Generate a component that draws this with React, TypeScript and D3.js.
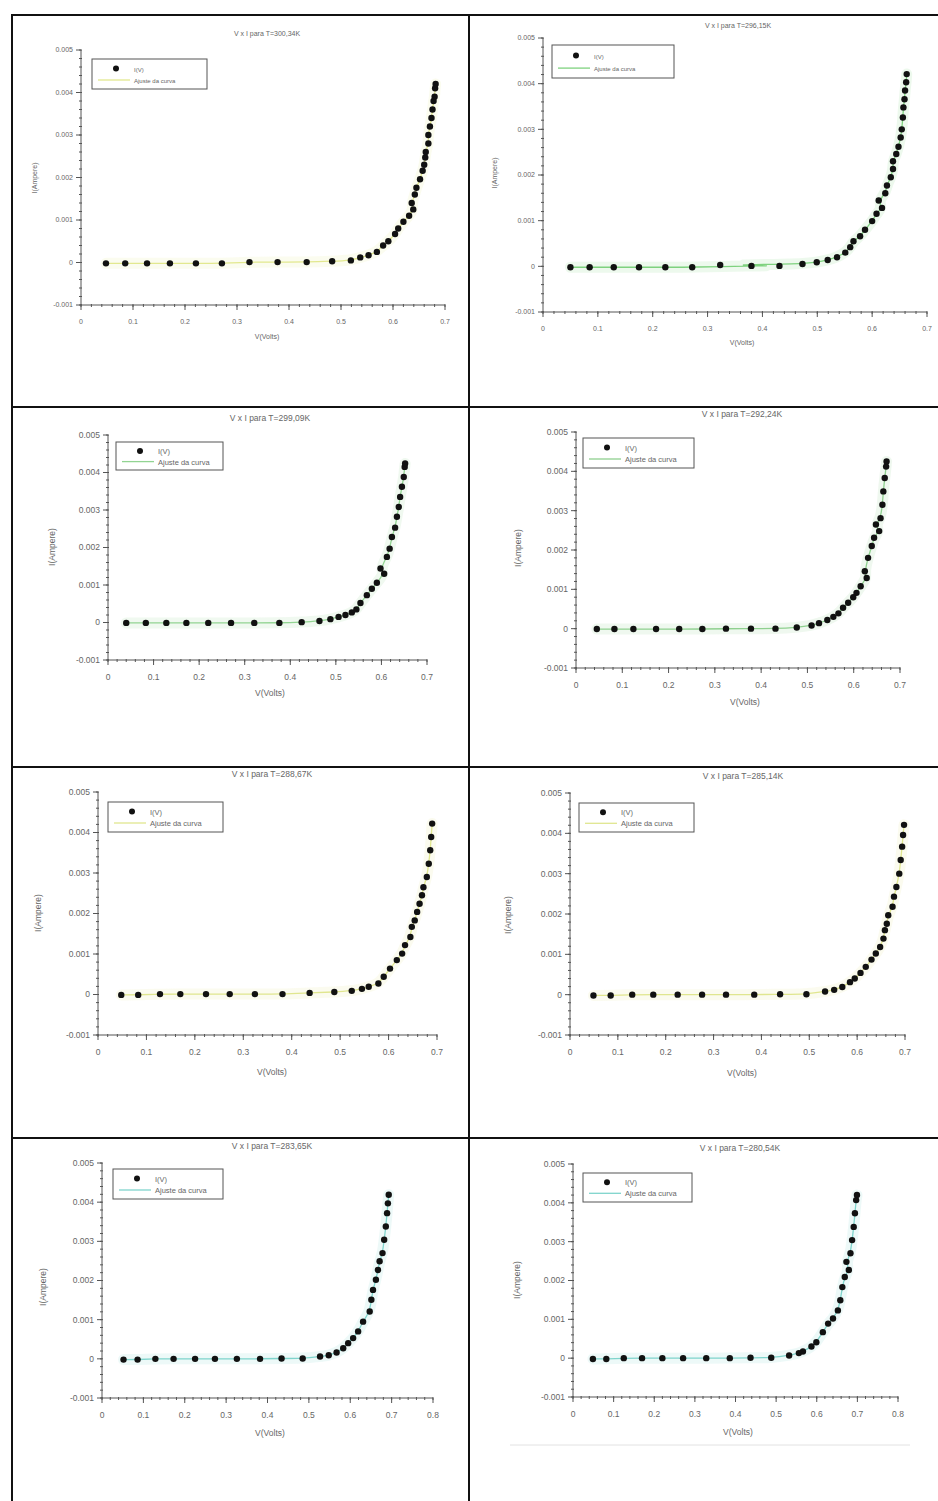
import React from 'react';
import * as d3 from 'd3';

// panel titles, left to right, top to bottom
const titles = [
  'V x I para T=300,34K',
  'V x I para T=296,15K',
  'V x I para T=299,09K',
  'V x I para T=292,24K',
  'V x I para T=288,67K',
  'V x I para T=285,14K',
  'V x I para T=283,65K',
  'V x I para T=280,54K',
];

const legendLabels = ['I(V)', 'Ajuste da curva'];
const xLabel = 'V(Volts)';
const yLabel = 'I(Ampere)';

const yTicks = [-0.001, 0, 0.001, 0.002, 0.003, 0.004, 0.005];
const yTickLabels = ['-0.001', '0', '0.001', '0.002', '0.003', '0.004', '0.005'];
const xTicks7 = [0, 0.1, 0.2, 0.3, 0.4, 0.5, 0.6, 0.7];
const xTickLabels7 = ['0', '0.1', '0.2', '0.3', '0.4', '0.5', '0.6', '0.7'];
const xTicks8 = [0, 0.1, 0.2, 0.3, 0.4, 0.5, 0.6, 0.7, 0.8];
const xTickLabels8 = ['0', '0.1', '0.2', '0.3', '0.4', '0.5', '0.6', '0.7', '0.8'];

// measured points, V in volts, I in amperes
const v1 = [0.048, 0.085, 0.127, 0.171, 0.221, 0.271, 0.324, 0.378, 0.434, 0.483, 0.519, 0.537, 0.553, 0.569, 0.581, 0.591, 0.604, 0.610, 0.620, 0.631, 0.639, 0.636, 0.642, 0.645, 0.652, 0.657, 0.660, 0.662, 0.663, 0.668, 0.668, 0.671, 0.674, 0.676, 0.678, 0.680, 0.681, 0.682];
const i1 = [-0.00002, -0.00002, -0.00002, -0.00002, -0.00002, -0.00002, 0.00001, 0.00001, 0.00001, 0.00003, 0.00005, 0.00012, 0.00017, 0.00025, 0.0004, 0.0005, 0.00067, 0.0008, 0.00096, 0.0011, 0.00125, 0.0014, 0.0016, 0.00176, 0.00196, 0.00216, 0.0023, 0.00247, 0.0026, 0.0028, 0.003, 0.0032, 0.0034, 0.0036, 0.0038, 0.0039, 0.0041, 0.0042];

const v2 = [0.050, 0.085, 0.129, 0.175, 0.223, 0.272, 0.323, 0.380, 0.431, 0.473, 0.499, 0.519, 0.536, 0.551, 0.560, 0.566, 0.578, 0.587, 0.600, 0.608, 0.618, 0.612, 0.624, 0.627, 0.634, 0.638, 0.638, 0.644, 0.648, 0.652, 0.654, 0.656, 0.657, 0.659, 0.660, 0.662, 0.663];
const i2 = [-0.00002, -0.00002, -0.00002, -0.00002, -0.00002, -0.00002, 0.00003, 0.00001, 0.00001, 0.00005, 0.00009, 0.00014, 0.0002, 0.0003, 0.00042, 0.00055, 0.00066, 0.0008, 0.00099, 0.00115, 0.00128, 0.00144, 0.0016, 0.00177, 0.00195, 0.00213, 0.0023, 0.00246, 0.00262, 0.00282, 0.003, 0.00326, 0.00348, 0.00366, 0.00385, 0.00403, 0.00421];

const v3 = [0.040, 0.083, 0.128, 0.172, 0.220, 0.270, 0.321, 0.376, 0.425, 0.464, 0.488, 0.506, 0.521, 0.535, 0.545, 0.554, 0.568, 0.579, 0.590, 0.598, 0.606, 0.612, 0.618, 0.623, 0.630, 0.634, 0.638, 0.641, 0.645, 0.649, 0.651, 0.652];
const i3 = [-0.00001, -0.00001, -0.00001, -0.00001, -0.00001, -0.00001, -0.00001, -0.00001, 0.00001, 0.00004, 0.00009, 0.00015, 0.0002, 0.00027, 0.00035, 0.00052, 0.00073, 0.0009, 0.00106, 0.00144, 0.0013, 0.00175, 0.00197, 0.00228, 0.00253, 0.00282, 0.00308, 0.00335, 0.00362, 0.00388, 0.00415, 0.00424];

const v4 = [0.045, 0.083, 0.124, 0.173, 0.223, 0.273, 0.324, 0.378, 0.431, 0.477, 0.509, 0.525, 0.543, 0.556, 0.567, 0.577, 0.588, 0.599, 0.606, 0.615, 0.628, 0.624, 0.631, 0.639, 0.644, 0.648, 0.655, 0.658, 0.662, 0.664, 0.667, 0.670, 0.671];
const i4 = [-0.00001, -0.00001, -0.00001, -0.00001, -0.00001, -0.00001, 0.00000, 0.00000, 0.00000, 0.00003, 0.00008, 0.00014, 0.00022, 0.0003, 0.00039, 0.00053, 0.00066, 0.0008, 0.00091, 0.00108, 0.00129, 0.00146, 0.0018, 0.0021, 0.00231, 0.00265, 0.00248, 0.00281, 0.00315, 0.00349, 0.00383, 0.00412, 0.00425];

const v5 = [0.048, 0.083, 0.128, 0.170, 0.223, 0.272, 0.324, 0.381, 0.437, 0.488, 0.524, 0.545, 0.559, 0.579, 0.590, 0.603, 0.617, 0.628, 0.634, 0.645, 0.648, 0.654, 0.659, 0.664, 0.669, 0.672, 0.679, 0.683, 0.686, 0.688, 0.690];
const i5 = [-0.00001, -0.00001, 0.00001, 0.00001, 0.00001, 0.00001, 0.00001, 0.00001, 0.00004, 0.00006, 0.00009, 0.00014, 0.00019, 0.00027, 0.00044, 0.00064, 0.00085, 0.00101, 0.00122, 0.00142, 0.00167, 0.00183, 0.00204, 0.00224, 0.00245, 0.00265, 0.0029, 0.00323, 0.00356, 0.00389, 0.00422];

const v6 = [0.049, 0.085, 0.130, 0.174, 0.225, 0.276, 0.326, 0.385, 0.439, 0.494, 0.533, 0.552, 0.569, 0.585, 0.595, 0.607, 0.618, 0.630, 0.639, 0.648, 0.655, 0.658, 0.662, 0.665, 0.674, 0.677, 0.682, 0.688, 0.691, 0.694, 0.696, 0.698];
const i6 = [-0.00002, -0.00002, 0.00000, 0.00000, 0.00000, 0.00000, 0.00000, 0.00000, 0.00001, 0.00001, 0.00008, 0.00012, 0.00019, 0.00031, 0.0004, 0.00054, 0.00069, 0.00087, 0.00102, 0.00118, 0.00139, 0.0016, 0.00176, 0.00197, 0.00218, 0.00243, 0.00267, 0.003, 0.00334, 0.00367, 0.00396, 0.00421];

const v7 = [0.052, 0.086, 0.129, 0.173, 0.225, 0.273, 0.326, 0.382, 0.434, 0.485, 0.527, 0.548, 0.567, 0.583, 0.595, 0.607, 0.619, 0.631, 0.647, 0.651, 0.655, 0.662, 0.667, 0.671, 0.678, 0.682, 0.686, 0.689, 0.691, 0.693];
const i7 = [-0.00002, -0.00002, 0.00000, 0.00000, 0.00000, 0.00000, 0.00000, 0.00000, 0.00001, 0.00001, 0.00006, 0.00009, 0.00016, 0.00027, 0.0004, 0.00053, 0.0007, 0.00095, 0.00121, 0.00151, 0.00176, 0.00202, 0.00227, 0.00249, 0.0027, 0.00304, 0.00338, 0.00372, 0.00397, 0.00419];

const v8 = [0.049, 0.082, 0.125, 0.170, 0.220, 0.271, 0.328, 0.386, 0.437, 0.488, 0.532, 0.556, 0.566, 0.587, 0.599, 0.615, 0.628, 0.640, 0.652, 0.658, 0.663, 0.669, 0.673, 0.679, 0.683, 0.687, 0.691, 0.694, 0.697, 0.699];
const i8 = [-0.00002, -0.00002, 0.00000, 0.00000, 0.00000, 0.00000, 0.00000, 0.00000, 0.00001, 0.00001, 0.00007, 0.00013, 0.00017, 0.0003, 0.00041, 0.00067, 0.00089, 0.00102, 0.00123, 0.00149, 0.00183, 0.00209, 0.00248, 0.00227, 0.0027, 0.00304, 0.00338, 0.00373, 0.00407, 0.0042];

const voltages = [v1, v2, v3, v4, v5, v6, v7, v8];
const currents = [i1, i2, i3, i4, i5, i6, i7, i8];
const xMaxes = [0.7, 0.7, 0.7, 0.7, 0.7, 0.7, 0.8, 0.8];

const fitColors = ['#e2e88f', '#7fd27f', '#92d492', '#8fd08f', '#e0e68f', '#e0e68f', '#7fd4cc', '#7fd4cc'];

// where each plot sits inside the table (text positions are centres)
const layouts = [
  { x0: 81, x1: 445, yTop: 50, yBot: 305, tx: 267, ty: 34, xlx: 267, xly: 337, ylx: 35, yly: 178, lg: [92, 59, 115, 30], fs: 7 },
  { x0: 543, x1: 927, yTop: 38, yBot: 312, tx: 738, ty: 26, xlx: 742, xly: 343, ylx: 495, yly: 173, lg: [552, 45, 122, 33], fs: 7 },
  { x0: 108, x1: 427, yTop: 435, yBot: 660, tx: 270, ty: 418, xlx: 270, xly: 693, ylx: 52, yly: 547, lg: [116, 442, 107, 28], fs: 8.5 },
  { x0: 576, x1: 900, yTop: 432, yBot: 668, tx: 742, ty: 414, xlx: 745, xly: 702, ylx: 518, yly: 548, lg: [583, 438, 111, 30], fs: 8.5 },
  { x0: 98, x1: 437, yTop: 792, yBot: 1035, tx: 272, ty: 774, xlx: 272, xly: 1072, ylx: 38, yly: 913, lg: [108, 802, 115, 30], fs: 8.5 },
  { x0: 570, x1: 905, yTop: 793, yBot: 1035, tx: 743, ty: 776, xlx: 742, xly: 1073, ylx: 508, yly: 915, lg: [579, 803, 115, 29], fs: 8.5 },
  { x0: 102, x1: 433, yTop: 1163, yBot: 1398, tx: 272, ty: 1146, xlx: 270, xly: 1433, ylx: 43, yly: 1287, lg: [113, 1169, 110, 30], fs: 8.5 },
  { x0: 573, x1: 898, yTop: 1164, yBot: 1397, tx: 740, ty: 1148, xlx: 738, xly: 1432, ylx: 517, yly: 1280, lg: [583, 1173, 109, 29], fs: 8.5 },
];

const textColor = '#666';
const axisColor = '#555';
const font = 'Liberation Sans, Arial, sans-serif';

function Panel({ idx }: { idx: number }) {
  const L = layouts[idx];
  const xMax = xMaxes[idx];
  const x = d3.scaleLinear().domain([0, xMax]).range([L.x0, L.x1]);
  const y = d3.scaleLinear().domain([-0.001, 0.005]).range([L.yBot, L.yTop]);
  const xt = xMax > 0.75 ? xTicks8 : xTicks7;
  const xtl = xMax > 0.75 ? xTickLabels8 : xTickLabels7;
  const xMinor = d3.range(0, xMax + 1e-9, 0.02);
  const yMinor = d3.range(-0.001, 0.005 + 1e-9, 0.0002);
  const pts = voltages[idx].map((v, k) => ({ v, i: currents[idx][k] }));
  const fitPts = [...pts].sort((a, b) => a.i - b.i || a.v - b.v);
  const line = d3.line<{ v: number; i: number }>()
    .x(d => x(d.v))
    .y(d => y(d.i))
    .curve(d3.curveBasis);
  const fitPath = line(fitPts) || '';
  const col = fitColors[idx];
  const [lx, ly, lw, lh] = L.lg;
  const fs = L.fs;
  const mid = fs * 0.35;

  return (
    <g fontFamily={font}>
      <text x={L.tx} y={L.ty + mid} textAnchor="middle" fontSize={fs} fill={textColor}>{titles[idx]}</text>

      {/* fit curve with its soft halo */}
      <path d={fitPath} fill="none" stroke={col} strokeWidth={11} strokeOpacity={0.14} strokeLinecap="round" />
      <path d={fitPath} fill="none" stroke={col} strokeWidth={1.3} />

      {/* axes */}
      <line x1={L.x0} x2={L.x0} y1={L.yTop} y2={L.yBot} stroke={axisColor} />
      <line x1={L.x0} x2={L.x1} y1={L.yBot} y2={L.yBot} stroke={axisColor} />
      {yMinor.map((t, k) => (
        <line key={'ym' + k} x1={L.x0 - 2} x2={L.x0 + 1} y1={y(t)} y2={y(t)} stroke={axisColor} />
      ))}
      {yTicks.map((t, k) => (
        <g key={'y' + k}>
          <line x1={L.x0 - 5} x2={L.x0} y1={y(t)} y2={y(t)} stroke={axisColor} />
          <text x={L.x0 - 8} y={y(t) + mid} textAnchor="end" fontSize={fs} fill={textColor}>{yTickLabels[k]}</text>
        </g>
      ))}
      {xMinor.map((t, k) => (
        <line key={'xm' + k} x1={x(t)} x2={x(t)} y1={L.yBot - 1} y2={L.yBot + 2} stroke={axisColor} />
      ))}
      {xt.map((t, k) => (
        <g key={'x' + k}>
          <line x1={x(t)} x2={x(t)} y1={L.yBot} y2={L.yBot + 5} stroke={axisColor} />
          <text x={x(t)} y={L.yBot + 17 + mid} textAnchor="middle" fontSize={fs} fill={textColor}>{xtl[k]}</text>
        </g>
      ))}
      <text x={L.xlx} y={L.xly + mid} textAnchor="middle" fontSize={fs} fill={textColor}>{xLabel}</text>
      <text transform={`translate(${L.ylx + mid},${L.yly}) rotate(-90)`} textAnchor="middle" fontSize={fs} fill={textColor}>{yLabel}</text>

      {/* measured points */}
      {pts.map((d, k) => (
        <circle key={'p' + k} cx={x(d.v)} cy={y(d.i)} r={3.2} fill="#111" />
      ))}

      {/* legend */}
      <rect x={lx} y={ly} width={lw} height={lh} fill="#fff" stroke="#555" strokeWidth={1} />
      <circle cx={lx + 24} cy={ly + lh * 0.32} r={3} fill="#111" />
      <text x={lx + 42} y={ly + lh * 0.32 + 3} fontSize={fs - 1} fill={textColor}>{legendLabels[0]}</text>
      <line x1={lx + 6} x2={lx + 38} y1={ly + lh * 0.7} y2={ly + lh * 0.7} stroke={col} strokeWidth={1.3} />
      <text x={lx + 42} y={ly + lh * 0.7 + 3} fontSize={fs - 1} fill={textColor}>{legendLabels[1]}</text>
    </g>
  );
}

export default function App() {
  const rows = [15, 407, 767, 1138];
  return (
    <svg width={938} height={1501} style={{ position: 'absolute', left: 0, top: 0, background: '#fff' }}>
      <rect x={0} y={0} width={938} height={1501} fill="#fff" />
      {layouts.map((_, k) => (
        <Panel key={k} idx={k} />
      ))}
      <line x1={510} x2={910} y1={1445} y2={1445} stroke="#e2e2e2" />
      {/* table grid */}
      {rows.map((r, k) => (
        <line key={'r' + k} x1={12} x2={938} y1={r} y2={r} stroke="#111" strokeWidth={2} />
      ))}
      <line x1={12} x2={12} y1={14} y2={1501} stroke="#111" strokeWidth={2} />
      <line x1={469} x2={469} y1={14} y2={1501} stroke="#111" strokeWidth={2} />
    </svg>
  );
}
